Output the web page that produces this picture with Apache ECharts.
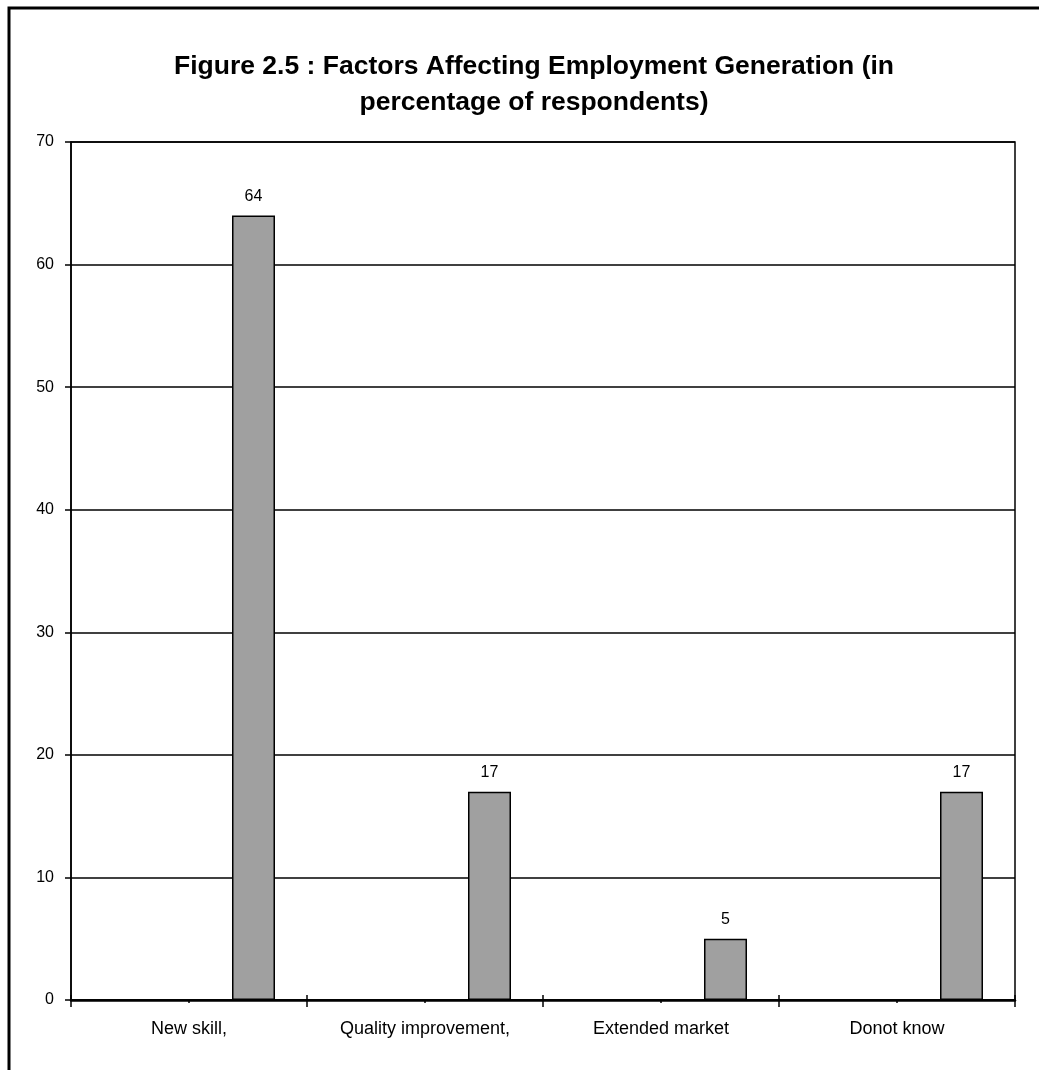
<!DOCTYPE html>
<html>
<head>
<meta charset="utf-8">
<title>Factors Affecting Employment Generation</title>
<script src="https://cdn.jsdelivr.net/npm/echarts@6/dist/echarts.min.js"></script>
<style>
  html, body { margin: 0; padding: 0; background: #fff; }
  #chart { width: 1039px; height: 1070px; }
</style>
</head>
<body>
<div id="chart"></div>
<script>
// Share of respondents naming each factor (%)
const categories = ['New skill,', 'Quality improvement,', 'Extended market', 'Donot know'];
const respondents = [64, 17, 5, 17];
const yTicks = { min: 0, max: 70, step: 10 };
const titleText = 'Figure 2.5 : Factors Affecting Employment Generation (in\npercentage of respondents)';

const FONT = '"Liberation Sans", Arial, sans-serif';
const chart = echarts.init(document.getElementById('chart'), null, { renderer: 'canvas' });

// tick-only companions of the category axis (crossing boundary ticks, centre ticks)
const hiddenAxis = (extra) => Object.assign({
  type: 'category',
  data: categories,
  gridIndex: 0,
  position: 'bottom',
  axisLine: { show: false },
  axisLabel: { show: false },
  splitLine: { show: false }
}, extra);

chart.setOption({
  backgroundColor: '#ffffff',
  animation: false,
  title: {
    text: titleText,
    left: 529,
    top: 44,
    textAlign: 'center',
    textStyle: {
      fontFamily: FONT,
      fontWeight: 'bold',
      fontSize: 26.5,
      lineHeight: 36,
      color: '#000'
    }
  },
  graphic: [{
    type: 'polyline',
    silent: true,
    shape: { points: [[9, 1100], [9, 8], [1100, 8]] },
    style: { stroke: '#000', lineWidth: 3, fill: null }
  }],
  grid: {
    left: 71, right: 24, top: 142, bottom: 70,
    show: true,
    borderColor: '#000',
    borderWidth: 1.5,
    backgroundColor: 'transparent'
  },
  xAxis: [
    {
      type: 'category',
      data: categories,
      position: 'bottom',
      boundaryGap: true,
      axisLine: { lineStyle: { color: '#000', width: 2.5 } },
      axisTick: { show: true, length: 7, lineStyle: { color: '#000', width: 1.5 } },
      axisLabel: { color: '#000', fontFamily: FONT, fontSize: 18, margin: 20 },
      splitLine: { show: false }
    },
    hiddenAxis({ axisTick: { show: true, inside: true, length: 5, lineStyle: { color: '#000', width: 1.5 } } }),
    hiddenAxis({ axisTick: { show: true, alignWithLabel: true, length: 3, lineStyle: { color: '#000', width: 1.5 } } })
  ],
  yAxis: {
    type: 'value',
    min: yTicks.min,
    max: yTicks.max,
    interval: yTicks.step,
    axisLine: { show: true, lineStyle: { color: '#000', width: 1.5 } },
    axisTick: { show: true, length: 6, lineStyle: { color: '#000', width: 1.5 } },
    axisLabel: { color: '#000', fontFamily: FONT, fontSize: 16, margin: 17, padding: [5, 0, 0, 0] },
    splitLine: { show: true, lineStyle: { color: '#000', width: 1.5 } }
  },
  series: [
    {
      // empty slot that keeps each bar on the right half of its category
      name: 'spacer',
      type: 'bar',
      xAxisIndex: 0,
      data: [],
      barWidth: 43,
      barGap: '200%'
    },
    {
      name: 'Respondents',
      type: 'bar',
      xAxisIndex: 0,
      data: respondents,
      barWidth: 43,
      barGap: '200%',
      itemStyle: { color: '#a0a0a0', borderColor: '#000', borderWidth: 1.5 },
      label: {
        show: true,
        position: 'top',
        distance: 11,
        color: '#000',
        fontFamily: FONT,
        fontSize: 16,
        formatter: (p) => String(p.value)
      }
    }
  ]
});
</script>
</body>
</html>
